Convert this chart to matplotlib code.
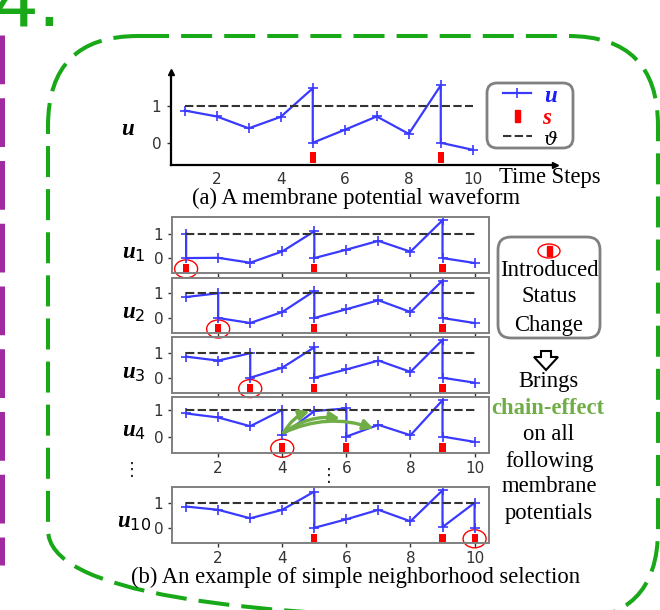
import matplotlib
matplotlib.use("Agg")
import matplotlib.pyplot as plt
import matplotlib.patches as mpatches
import matplotlib.transforms as mtransforms
from matplotlib.lines import Line2D
import numpy as np

# ---------------- data ----------------
time_steps = [1, 2, 3, 4, 5, 6, 7, 8, 9, 10]
threshold = 1.0

# (a) membrane potential waveform (value before reset at each step)
u_a = [0.87, 0.71, 0.39, 0.70, 1.47, 0.35, 0.71, 0.24, 1.55, -0.19]
spikes_a = [5, 9]
reset_a = [0.0, 0.0]

# (b) neighbourhood examples
series_names = ["u1", "u2", "u3", "u4", "u10"]
series_labels = [r"$\mathbfit{u}_{1}$", r"$\mathbfit{u}_{2}$", r"$\mathbfit{u}_{3}$",
                 r"$\mathbfit{u}_{4}$", r"$\mathbfit{u}_{10}$"]
u_b = {
    "u1": [1.00, 0.01, -0.19, 0.27, 1.09, 0.34, 0.70, 0.26, 1.54, -0.20],
    "u2": [0.84, 0.99, -0.20, 0.24, 1.08, 0.35, 0.71, 0.24, 1.50, -0.20],
    "u3": [0.86, 0.70, 1.00, 0.41, 1.24, 0.34, 0.70, 0.24, 1.54, -0.20],
    "u4": [0.87, 0.72, 0.39, 1.00, 0.96, 1.06, 0.44, 0.05, 1.37, -0.20],
    "u10": [0.85, 0.72, 0.38, 0.72, 1.45, 0.34, 0.72, 0.26, 1.50, 1.00],
}
spikes_b = {
    "u1": [1, 5, 9], "u2": [2, 5, 9], "u3": [3, 5, 9],
    "u4": [4, 6, 9], "u10": [5, 9, 10],
}
reset_b = {
    "u1": [0.0, 0.0, 0.0], "u2": [0.0, 0.0, 0.0], "u3": [0.0, 0.0, 0.0],
    "u4": [0.05, 0.0, 0.0], "u10": [0.0, 0.03, 0.0],
}
introduced = {"u1": 1, "u2": 2, "u3": 3, "u4": 4, "u10": 10}
# chain-effect arrows in u4: start and end points (time step, potential)
chain_start = (4.05, 0.15)
chain_ends = [(4.85, 0.95), (5.8, 0.68), (6.85, 0.30)]

x_ticks = [2, 4, 6, 8, 10]
y_ticks = [0, 1]

# ---------------- style ----------------
W, H = 660, 610
BLUE = "#3a3aff"
RED = "#ff0000"
GREEN_BOX = "#18a818"
GREEN_TXT = "#70ad47"
PURPLE = "#a02aa0"
GRAY = "#808080"
TICK_C = "#333333"
SERIF = "Liberation Serif"

plt.rcParams["mathtext.fontset"] = "custom"
plt.rcParams["mathtext.bfit"] = "Liberation Serif:bold:italic"
plt.rcParams["mathtext.rm"] = "DejaVu Sans"
plt.rcParams["mathtext.it"] = "DejaVu Serif:italic"

fig = plt.figure(figsize=(W / 100, H / 100), dpi=100)
PX = mtransforms.Affine2D().scale(1, -1).translate(0, H)  # pixel coords, origin top-left


def axes_px(l, t, r, b):
    return fig.add_axes([l / W, 1 - b / H, (r - l) / W, (b - t) / H])


def ftext(x, y, s, **kw):
    kw.setdefault("ha", "center")
    kw.setdefault("va", "center")
    return fig.text(x / W, 1 - y / H, s, **kw)


def trace(vals, spikes, resets):
    xs, ys = [], []
    for t, v in zip(time_steps, vals):
        xs.append(t)
        ys.append(v)
        if t in spikes:
            xs.append(t)
            ys.append(resets[spikes.index(t)])
    return xs, ys


# ---------------- background decorations ----------------
green_box = mpatches.FancyBboxPatch((48, 36), 610, 584,
                                    boxstyle="round,pad=0,rounding_size=90",
                                    transform=PX, fill=False, edgecolor=GREEN_BOX,
                                    lw=2.9, linestyle=(0, (7.7, 3.0)))
fig.add_artist(green_box)
purple = Line2D([1.5, 1.5], [35, 565], transform=PX, color=PURPLE, lw=3.6,
                linestyle=(0, (9.75, 2.8)))
fig.add_artist(purple)
ftext(-8, 25, "4.", ha="left", va="baseline", fontsize=52, color=GREEN_BOX,
      family="DejaVu Sans")

# ---------------- panel (a) ----------------
ax = axes_px(171, 72, 555, 165)
xs, ys = trace(u_a, spikes_a, reset_a)
ax.plot(xs, ys, color=BLUE, lw=1.6, marker="+", ms=7, mew=1.2)
ax.plot([time_steps[0], time_steps[-1]], [threshold, threshold], color="#333333",
        lw=1.5, linestyle=(0, (4, 1.6)))
ax.bar(spikes_a, 0.31, bottom=-0.55, width=0.19, color=RED)
ax.set_xlim(0.57, 12.57)
ax.set_ylim(-0.6, 1.91)
for s in ["top", "right"]:
    ax.spines[s].set_visible(False)
for s in ["left", "bottom"]:
    ax.spines[s].set_linewidth(1.6)
    ax.spines[s].set_color("black")
ax.plot(1, 0, ">", color="black", ms=5, transform=ax.transAxes, clip_on=False)
ax.plot(0, 1, "^", color="black", ms=5, transform=ax.transAxes, clip_on=False)
ax.set_xticks(x_ticks)
ax.set_yticks(y_ticks)
ax.tick_params(axis="both", labelsize=11, colors=TICK_C, length=3, width=1)
ax.tick_params(axis="x", length=0, pad=5)
ax.tick_params(axis="y", pad=4)
ax.set_facecolor("none")
ftext(128, 128, r"$\mathbfit{u}$", fontsize=16.5)
ftext(550, 178, "Time Steps", family=SERIF, fontsize=16.3)
ftext(356, 198, "(a) A membrane potential waveform", family=SERIF, fontsize=16.3)

# legend of panel (a)
leg_box = mpatches.FancyBboxPatch((487, 83), 86, 65, boxstyle="round,pad=0,rounding_size=10",
                                  transform=PX, fill=False, edgecolor=GRAY, lw=2)
fig.add_artist(leg_box)
fig.add_artist(Line2D([503, 531], [93, 93], transform=PX, color=BLUE, lw=1.6))
fig.add_artist(Line2D([517], [93], transform=PX, color=BLUE, marker="+", ms=7, mew=1.2))
fig.add_artist(mpatches.Rectangle((514.5, 110), 5, 12, transform=PX, color=RED))
fig.add_artist(Line2D([503, 532], [136, 136], transform=PX, color="#333333", lw=1.5,
                      linestyle=(0, (4, 1.6))))
ftext(551, 96, "u", family=SERIF, weight="bold", style="italic", fontsize=16.5, color="#1a1aff")
ftext(547, 118, "s", family=SERIF, weight="bold", style="italic", fontsize=16.5, color=RED)
ftext(551, 139, r"$\vartheta$", fontsize=14)

# ---------------- panel (b) ----------------
box_tops = {"u1": 217.3, "u2": 277.5, "u3": 337.0, "u4": 397.0, "u10": 487.3}
box_h = 55.5
label_y = {"u1": 252, "u2": 312, "u3": 372, "u4": 431, "u10": 521}
ax_b = {}
for name, lab in zip(series_names, series_labels):
    top = box_tops[name]
    a = axes_px(171.7, top, 489, top + box_h)
    ax_b[name] = a
    vals = u_b[name]
    xs, ys = trace(vals, spikes_b[name], reset_b[name])
    a.plot(xs, ys, color=BLUE, lw=1.6, marker="+", ms=7, mew=1.2)
    a.plot([time_steps[0], time_steps[-1]], [threshold, threshold], color="#333333",
           lw=1.5, linestyle=(0, (4, 1.6)))
    a.bar(spikes_b[name], 0.4, bottom=-0.65, width=0.19, color=RED)
    ylo, yhi = -0.6, max(vals) + 0.12
    a.set_xlim(0.55, 10.45)
    a.set_ylim(ylo, yhi)
    ppu_x = (489 - 171.7) / (10.45 - 0.55)
    ppu_y = box_h / (yhi - ylo)
    t0 = introduced[name]
    circ = mpatches.Ellipse((t0, -0.44), width=23 / ppu_x, height=18 / ppu_y, fill=False,
                            edgecolor=RED, lw=1.0, clip_on=False)
    a.add_patch(circ)
    for s in a.spines.values():
        s.set_color(GRAY)
        s.set_linewidth(1.4)
    a.set_xticks(x_ticks)
    a.set_yticks(y_ticks)
    a.tick_params(axis="both", labelsize=11, colors=TICK_C, length=3, width=1, pad=3)
    a.tick_params(axis="x", labelbottom=name in ("u4", "u10"))
    a.set_facecolor("none")
    ftext(134, label_y[name], lab, fontsize=16.5)

# chain effect arrows
a4 = ax_b["u4"]
for end in chain_ends:
    a4.annotate("", xy=end, xytext=chain_start,
                arrowprops=dict(arrowstyle="-|>", color=GREEN_TXT, lw=2.4,
                                mutation_scale=15, shrinkA=0, shrinkB=0,
                                connectionstyle="arc3,rad=-0.2"))

ftext(132, 470, "\u22ee", fontsize=13, color="#222222", family="DejaVu Sans")
ftext(329, 476, "\u22ee", fontsize=13, color="#222222", family="DejaVu Sans")
ftext(356, 577, "(b) An example of simple neighborhood selection", family=SERIF, fontsize=16.3)

# right side annotation
fig.add_artist(mpatches.FancyBboxPatch((498, 237), 102, 101,
                                       boxstyle="round,pad=0,rounding_size=13",
                                       transform=PX, fill=False, edgecolor=GRAY, lw=2))
fig.add_artist(mpatches.Ellipse((549, 251), 22, 14, transform=PX, fill=False,
                                edgecolor=RED, lw=1.0))
fig.add_artist(mpatches.Rectangle((547, 246), 4.5, 10, transform=PX, color=RED))
for txt, yy in [("Introduced", 270), ("Status", 297), ("Change", 325)]:
    ftext(549, yy, txt, family=SERIF, fontsize=16.3)
fig.add_artist(mpatches.FancyArrow(546, 351, 0, 19, width=10, head_width=24, head_length=13,
                                   length_includes_head=True, transform=PX,
                                   facecolor="white", edgecolor="black", lw=1.5))
ftext(549, 382, "Brings", family=SERIF, fontsize=16.3)
ftext(548, 408, "chain-effect", family=SERIF, fontsize=16.3, weight="bold", color=GREEN_TXT)
for txt, yy in [("on all", 435), ("following", 461), ("membrane", 487), ("potentials", 513)]:
    ftext(549, yy, txt, family=SERIF, fontsize=16.3)

fig.savefig("out.png", dpi=100)
